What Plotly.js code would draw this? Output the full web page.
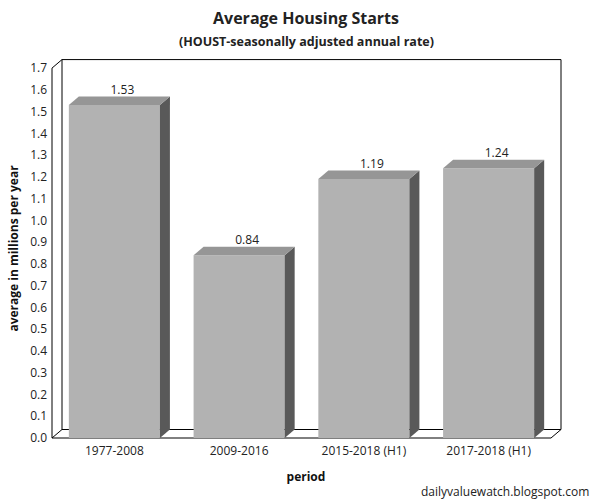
<!DOCTYPE html>
<html>
<head>
<meta charset="utf-8">
<script src="https://cdn.plot.ly/plotly-3.0.1.min.js"></script>
<style>html,body{margin:0;padding:0;background:#fff;}#chart{width:600px;height:500px;}</style>
</head>
<body>
<div id="chart"></div>
<script>
// ---- data ----
const categories = ['1977-2008', '2009-2016', '2015-2018 (H1)', '2017-2018 (H1)'];
const values = [1.53, 0.84, 1.19, 1.24];
const valueLabels = ['1.53', '0.84', '1.19', '1.24'];
const yTickValues = [0, 0.1, 0.2, 0.3, 0.4, 0.5, 0.6, 0.7, 0.8, 0.9, 1.0, 1.1, 1.2, 1.3, 1.4, 1.5, 1.6, 1.7];
const yTickLabels = ['0.0','0.1','0.2','0.3','0.4','0.5','0.6','0.7','0.8','0.9','1.0','1.1','1.2','1.3','1.4','1.5','1.6','1.7'];
const yMax = 1.7;

// ---- geometry (pixels -> data units) ----
const W = 600, H = 500;
const M = {l: 48, r: 36, t: 55, b: 58};
const PX_X = 124.75;   // px per category
const PX_Y = 217.6;    // px per 1.0 value
const PAD = 4;         // px between plot edge and front origin
const d = 10 / PX_X;   // depth offset x
const e = 8.5 / PX_Y;  // depth offset y
const bw = 0.73;       // bar width

const xIdx = categories.map((c, i) => i);
const xr = [-0.5 - PAD / PX_X, -0.5 + (W - M.l - M.r - PAD) / PX_X];
const yr = [-PAD / PX_Y, (H - M.b - M.t - PAD) / PX_Y];

const FRONT = '#b2b2b2', TOP = '#969696', SIDE = '#595959';
const FONT = 'Open Sans, Noto Sans, sans-serif';

const traces = [];
traces.push({
  type: 'bar', x: xIdx, y: values, width: bw,
  marker: {color: FRONT, line: {width: 0}}, hoverinfo: 'skip'
});
values.forEach((v, i) => {
  const L = i - bw / 2, R = i + bw / 2;
  traces.push({
    type: 'scatter', mode: 'lines', fill: 'toself', fillcolor: SIDE,
    line: {width: 0, color: SIDE}, hoverinfo: 'skip',
    x: [R, R, R + d, R + d, R], y: [0, v, v + e, e, 0]
  });
  traces.push({
    type: 'scatter', mode: 'lines', fill: 'toself', fillcolor: TOP,
    line: {width: 0, color: TOP}, hoverinfo: 'skip',
    x: [L, L + d, R + d, R, L], y: [v, v + e, v + e, v, v]
  });
});
traces.push({
  type: 'scatter', mode: 'text', cliponaxis: false, hoverinfo: 'skip',
  x: xIdx.map(i => i + d * 0.8), y: values.map(v => v + e),
  text: valueLabels, textposition: 'top center',
  textfont: {family: FONT, size: 12, color: '#222'}
});

const ln = {color: '#000', width: 1};
const x0 = -0.5, x1 = categories.length - 0.5;
const shapes = [
  {type: 'rect', xref: 'x', yref: 'y', x0: x0 + d, x1: x1 + d, y0: e, y1: yMax + e, line: ln, fillcolor: '#fff', layer: 'below'},
  {type: 'line', xref: 'x', yref: 'y', x0: x0, x1: x0, y0: 0, y1: yMax, line: ln, layer: 'below'},
  {type: 'line', xref: 'x', yref: 'y', x0: x0, x1: x0 + d, y0: yMax, y1: yMax + e, line: ln, layer: 'below'},
  {type: 'line', xref: 'x', yref: 'y', x0: x0, x1: x0 + d, y0: 0, y1: e, line: ln, layer: 'below'},
  {type: 'line', xref: 'x', yref: 'y', x0: x0, x1: x1, y0: 0, y1: 0, line: ln, layer: 'below'},
  {type: 'line', xref: 'x', yref: 'y', x0: x1, x1: x1 + d, y0: 0, y1: e, line: ln, layer: 'below'}
];

const plotH = H - M.t - M.b;
const py = Y => (H - M.b - Y) / plotH;

const layout = {
  width: W, height: H, margin: M,
  paper_bgcolor: '#fff', plot_bgcolor: '#fff',
  showlegend: false,
  font: {family: FONT, size: 12, color: '#222'},
  title: {text: '<b>Average Housing Starts</b>', x: 0.5, xanchor: 'center', xref: 'paper',
          y: 1 - 18 / H, yanchor: 'middle', font: {family: FONT, size: 16, color: '#222'}},
  xaxis: {range: xr, showgrid: false, zeroline: false, showline: false, ticks: '',
          tickvals: xIdx, ticktext: categories, tickfont: {size: 12, color: '#222'},
          title: {text: '<b>period</b>', font: {size: 12, color: '#111'}, standoff: 14}},
  yaxis: {range: yr, showgrid: false, zeroline: false, showline: false, ticks: '',
          tickvals: yTickValues, ticktext: yTickLabels, tickfont: {size: 12, color: '#222'},
          title: {text: '<b>average in millions per year</b>', font: {size: 12, color: '#111'}, standoff: 8}},
  shapes: shapes,
  annotations: [
    {text: '<b>(HOUST-seasonally adjusted annual rate)</b>', xref: 'paper', yref: 'paper',
     x: 0.5, y: py(41), xanchor: 'center', yanchor: 'middle', showarrow: false,
     font: {family: FONT, size: 12.5, color: '#222'}},
    {text: 'dailyvaluewatch.blogspot.com', xref: 'paper', yref: 'paper',
     x: (591 - M.l) / (W - M.l - M.r), y: py(491), xanchor: 'right', yanchor: 'middle', showarrow: false,
     font: {family: FONT, size: 12, color: '#222'}}
  ]
};

Plotly.newPlot('chart', traces, layout, {staticPlot: true});
</script>
</body>
</html>
